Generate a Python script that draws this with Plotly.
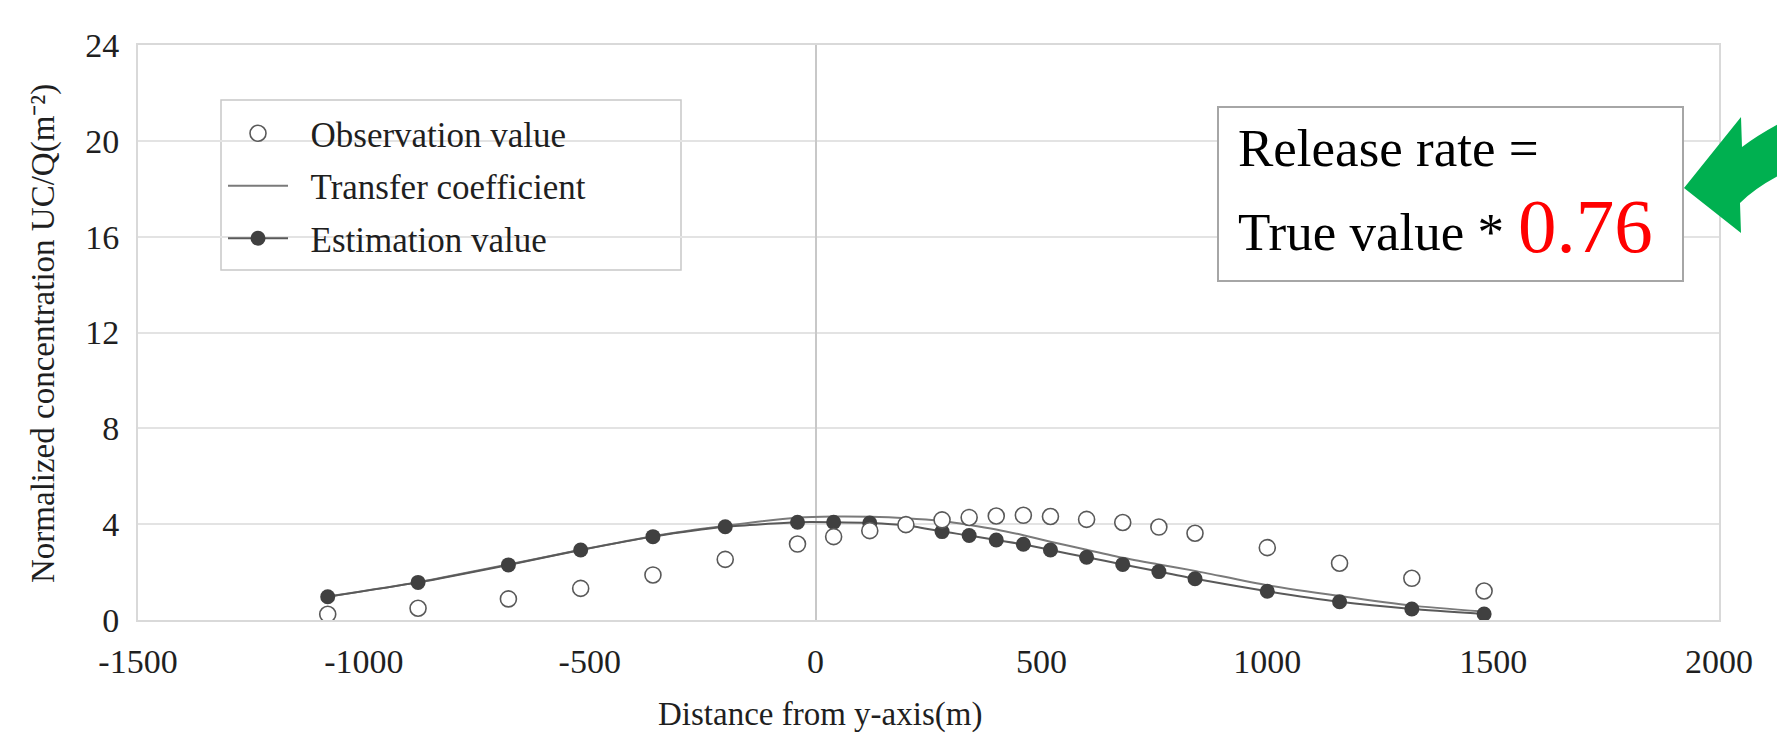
import plotly.graph_objects as go

# ---------------- data ----------------
distance = [-1080, -880, -680, -520, -360, -200, -40, 40, 120, 200, 280, 340,
            400, 460, 520, 600, 680, 760, 840, 1000, 1160, 1320, 1480]
observation = [0.24, 0.49, 0.88, 1.32, 1.88, 2.53, 3.17, 3.48, 3.73, 3.98, 4.18, 4.28,
               4.34, 4.37, 4.32, 4.20, 4.07, 3.88, 3.62, 3.02, 2.37, 1.74, 1.21]
transfer = [0.98, 1.58, 2.32, 2.93, 3.50, 3.93, 4.27, 4.32, 4.31, 4.25, 4.13, 3.97,
            3.78, 3.54, 3.27, 2.93, 2.60, 2.32, 2.05, 1.45, 1.00, 0.60, 0.35]
estimation = [0.97, 1.57, 2.30, 2.92, 3.48, 3.89, 4.08, 4.08, 4.05, 3.95, 3.69, 3.53,
              3.34, 3.16, 2.92, 2.62, 2.32, 2.02, 1.72, 1.20, 0.76, 0.46, 0.25]
y_ticks = [0, 4, 8, 12, 16, 20, 24]
x_ticks = [-1500, -1000, -500, 0, 500, 1000, 1500, 2000]
release_ratio = "0.76"

# ---------------- layout constants (pixels) ----------------
W, H = 1777, 734
L, R, T, B = 138, 58, 45, 114
PW, PH = W - L - R, H - T - B
FONT = "Liberation Serif"
TXT = "#1f1f1f"
NB = "\u00a0\u00a0"


def px(x):
    return (x - L) / PW


def py(y):
    return (H - B - y) / PH


fig = go.Figure()

fig.add_trace(go.Scatter(
    x=distance, y=transfer, mode="lines", name=NB + "Transfer coefficient",
    line=dict(color="#7a7a7a", width=2, shape="spline", smoothing=0.6),
    legendrank=2, legendgroup="b"))
fig.add_trace(go.Scatter(
    x=distance, y=estimation, mode="lines+markers", name=NB + "Estimation value",
    line=dict(color="#595959", width=2, shape="spline", smoothing=0.6),
    marker=dict(color="#404040", size=15, line=dict(width=0)),
    legendrank=3, legendgroup="c"))
fig.add_trace(go.Scatter(
    x=distance, y=observation, mode="markers", name=NB + "Observation value",
    marker=dict(color="white", size=16, line=dict(color="#595959", width=1.6)),
    legendrank=1, legendgroup="a"))

fig.update_layout(
    width=W, height=H,
    margin=dict(l=L, r=R, t=T, b=B, pad=0),
    paper_bgcolor="white", plot_bgcolor="white",
    font=dict(family=FONT, size=34, color=TXT),
    showlegend=True,
    legend=dict(
        x=px(223), y=py(104), xanchor="left", yanchor="top",
        bgcolor="rgba(0,0,0,0)", borderwidth=0,
        font=dict(family=FONT, size=35, color=TXT),
        itemwidth=60, tracegroupgap=4, traceorder="grouped",
    ),
)

fig.update_xaxes(
    range=[-1500, 2000], tickvals=x_ticks, ticktext=[str(v) for v in x_ticks],
    showgrid=False, zeroline=True, zerolinecolor="#C8C8C8", zerolinewidth=1.5,
    showline=True, mirror=True, linecolor="#D9D9D9", linewidth=2,
    ticks="", ticklabelstandoff=10,
    tickfont=dict(family=FONT, size=34, color=TXT),
)
fig.update_yaxes(
    range=[0, 24], tickvals=y_ticks, ticktext=[str(v) for v in y_ticks],
    showgrid=True, gridcolor="#E3E3E3", gridwidth=2, zeroline=False,
    showline=True, mirror=True, linecolor="#D9D9D9", linewidth=2,
    ticks="", ticklabelstandoff=10,
    tickfont=dict(family=FONT, size=34, color=TXT),
)

# legend frame
fig.add_shape(type="rect", xref="paper", yref="paper",
              x0=px(221), x1=px(681), y0=py(270), y1=py(100),
              line=dict(color="#C8C8C8", width=1.5), fillcolor="white", layer="below")

# axis titles
fig.add_annotation(xref="paper", yref="paper", x=px(820), y=py(714),
                   text="Distance from y-axis(m)", showarrow=False,
                   xanchor="center", yanchor="middle",
                   font=dict(family=FONT, size=33, color=TXT))
fig.add_annotation(xref="paper", yref="paper", x=px(43), y=py(334),
                   text="Normalized concentration UC/Q(m⁻²)", showarrow=False,
                   textangle=-90, xanchor="center", yanchor="middle",
                   font=dict(family=FONT, size=33, color=TXT))

# release-rate box
fig.add_shape(type="rect", xref="paper", yref="paper",
              x0=px(1218), x1=px(1683), y0=py(281), y1=py(107),
              line=dict(color="#A6A6A6", width=2), fillcolor="white", layer="above")
fig.add_annotation(xref="paper", yref="paper", x=px(1236), y=py(166 - 18),
                   text="Release rate =", showarrow=False,
                   xanchor="left", yanchor="middle",
                   font=dict(family=FONT, size=53, color="black"))
fig.add_annotation(xref="paper", yref="paper", x=px(1236), y=py(250 - 18),
                   text="True value *", showarrow=False,
                   xanchor="left", yanchor="middle",
                   font=dict(family=FONT, size=53, color="black"))
fig.add_annotation(xref="paper", yref="paper", x=px(1516), y=py(252 - 26),
                   text=release_ratio, showarrow=False,
                   xanchor="left", yanchor="middle",
                   font=dict(family=FONT, size=77, color="#FF0000"))

# green arrow
pts = {
    "tip": (1684, 188), "ub": (1741, 117), "ui": (1742, 147),
    "ue": (1790, 118), "le": (1790, 170), "li": (1740, 203), "lb": (1741, 233),
}


def P(k):
    x, y = pts[k]
    return f"{px(x):.5f},{py(y):.5f}"


path = (f"M {P('tip')} L {P('ub')} L {P('ui')} "
        f"Q {px(1762):.5f},{py(132):.5f} {P('ue')} L {P('le')} "
        f"Q {px(1758):.5f},{py(185):.5f} {P('li')} L {P('lb')} Z")
fig.add_shape(type="path", xref="paper", yref="paper", path=path,
              fillcolor="#00B050", line=dict(width=0), layer="above")

fig.write_html("out.html")
